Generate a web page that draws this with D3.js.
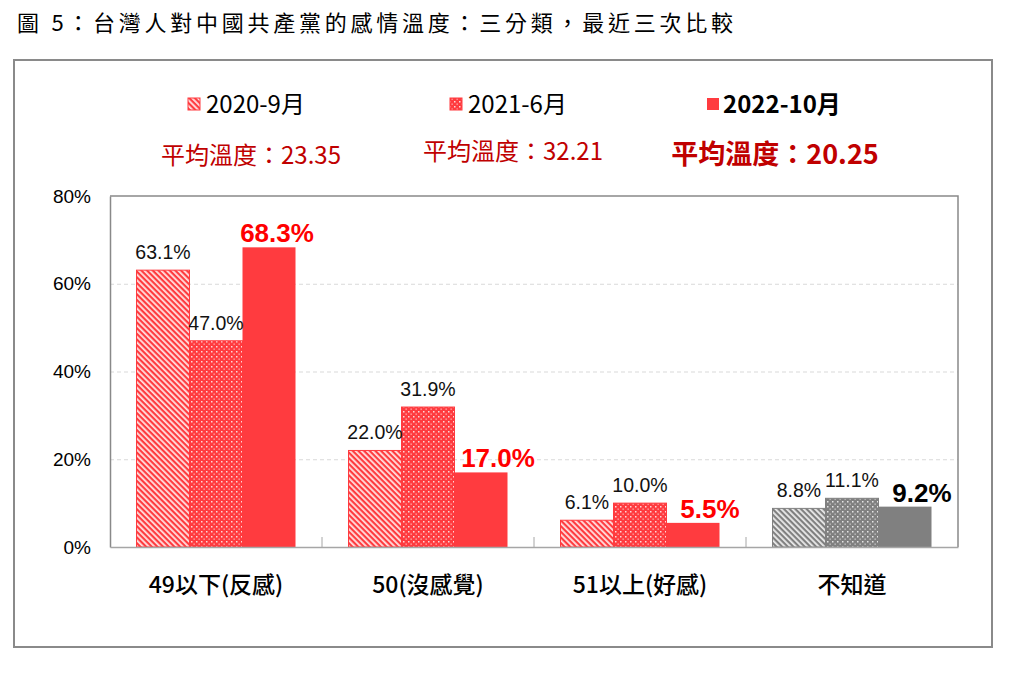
<!DOCTYPE html>
<html>
<head>
<meta charset="utf-8">
<script src="https://cdn.jsdelivr.net/npm/d3@7"></script>
<style>
  body { margin: 0; background: #fff; }
  text { font-family: "Liberation Sans", Arial, sans-serif; }
  .cjk { font-family: "Noto Sans CJK TC", "Noto Sans", sans-serif; }
</style>
</head>
<body>
<div id="chart"></div>
<script>
const title = "圖 5：台灣人對中國共產黨的感情溫度：三分類，最近三次比較";
const categories = ["49以下(反感)", "50(沒感覺)", "51以上(好感)", "不知道"];
const series = ["2020-9月", "2021-6月", "2022-10月"];
const v2020 = [63.1, 22.0, 6.1, 8.8];
const v2021 = [47.0, 31.9, 10.0, 11.1];
const v2022 = [68.3, 17.0, 5.5, 9.2];
const averages = [23.35, 32.21, 20.25];
const yTicks = [0, 20, 40, 60, 80];

const values = [v2020, v2021, v2022];
const width = 1017, height = 684;
const RED = "#ff3b3f", GRAY = "#808080", DARKRED = "#c00000";

const svg = d3.select("#chart").append("svg")
  .attr("width", width)
  .attr("height", height);

// patterns
const defs = svg.append("defs");
function stripes(id, color) {
  const p = defs.append("pattern").attr("id", id)
    .attr("patternUnits", "userSpaceOnUse")
    .attr("width", 4).attr("height", 4)
    .attr("patternTransform", "rotate(-45)");
  p.append("rect").attr("width", 4).attr("height", 4).attr("fill", color);
  p.append("rect").attr("width", 1.8).attr("height", 4).attr("fill", "#fff").attr("opacity", 0.85);
}
function dots(id, color) {
  const p = defs.append("pattern").attr("id", id)
    .attr("patternUnits", "userSpaceOnUse")
    .attr("width", 5).attr("height", 5);
  p.append("rect").attr("width", 5).attr("height", 5).attr("fill", color);
  p.append("rect").attr("x", 1).attr("y", 1).attr("width", 1.5).attr("height", 1.5).attr("fill", "#fff").attr("opacity", 0.8);
  p.append("rect").attr("x", 3.5).attr("y", 3.5).attr("width", 1.3).attr("height", 1.3).attr("fill", "#fff").attr("opacity", 0.6);
}
stripes("stripeRed", RED);
stripes("stripeGray", GRAY);
dots("dotRed", RED);
dots("dotGray", GRAY);

function fillFor(si, ci) {
  const gray = ci === 3;
  if (si === 0) return gray ? "url(#stripeGray)" : "url(#stripeRed)";
  if (si === 1) return gray ? "url(#dotGray)" : "url(#dotRed)";
  return gray ? GRAY : RED;
}

// title
svg.append("text").attr("class", "cjk")
  .attr("x", 17).attr("y", 31)
  .attr("font-size", 22)
  .attr("textLength", 716).attr("lengthAdjust", "spacing")
  .attr("fill", "#000")
  .text(title);

// outer frame
svg.append("rect")
  .attr("x", 14).attr("y", 60).attr("width", 978).attr("height", 587)
  .attr("fill", "none").attr("stroke", "#8a8a8a").attr("stroke-width", 2);

// scales
const x = d3.scaleBand().domain(categories).range([110, 958]);
const xSub = d3.scaleBand().domain(series).range([0, x.bandwidth()]).paddingOuter(0.5);
const y = d3.scaleLinear().domain([0, 80]).range([547, 196]);

// gridlines
svg.append("g")
  .attr("transform", "translate(110,0)")
  .call(d3.axisLeft(y).tickValues(yTicks.filter(d => d > 0 && d < 80)).tickSize(-848).tickFormat(""))
  .call(g => g.select(".domain").remove())
  .call(g => g.selectAll("line").attr("stroke", "#d9d9d9").attr("stroke-dasharray", "4,3"));

// plot border top/right
svg.append("path")
  .attr("d", `M110,${y(80)}H958V${y(0)}`)
  .attr("fill", "none").attr("stroke", "#898989").attr("stroke-width", 1.5);

// y axis
svg.append("g")
  .attr("transform", "translate(110,0)")
  .call(d3.axisLeft(y).tickValues(yTicks).tickFormat(d => d + "%").tickSize(0).tickPadding(19))
  .call(g => g.select(".domain").attr("stroke", "#898989").attr("stroke-width", 1.5))
  .call(g => g.selectAll("text").attr("font-size", 19).attr("fill", "#000")
    .attr("font-family", "Liberation Sans, Arial, sans-serif"));

// bars
const groups = svg.append("g").selectAll("g")
  .data(categories)
  .join("g")
  .attr("transform", d => `translate(${x(d)},0)`);

groups.selectAll("rect")
  .data((c, ci) => series.map((s, si) => ({ s, si, ci, v: values[si][ci] })))
  .join("rect")
  .attr("x", d => xSub(d.s))
  .attr("y", d => y(d.v))
  .attr("width", xSub.bandwidth())
  .attr("height", d => y(0) - y(d.v))
  .attr("fill", d => fillFor(d.si, d.ci))
  .attr("stroke", d => d.si === 2 ? "none" : (d.ci === 3 ? GRAY : RED))
  .attr("stroke-width", 1);

groups.selectAll("text")
  .data((c, ci) => series.map((s, si) => ({ s, si, ci, v: values[si][ci] })))
  .join("text")
  .attr("x", d => xSub(d.s) + xSub.bandwidth() / 2 + (d.si === 2 ? (d.ci === 0 ? 8 : 17) : 0))
  .attr("y", d => y(d.v) - (d.si === 2 ? 5 : 11))
  .attr("text-anchor", "middle")
  .attr("font-size", d => d.si === 2 ? 26 : 19.5)
  .attr("font-weight", d => d.si === 2 ? "bold" : "normal")
  .attr("fill", d => d.si === 2 ? (d.ci === 3 ? "#000" : "#ff0000") : "#111")
  .text(d => d.v.toFixed(1) + "%");

// x axis
svg.append("g")
  .attr("transform", `translate(0,${y(0)})`)
  .call(d3.axisBottom(x).tickSize(0).tickPadding(30))
  .call(g => g.select(".domain").attr("stroke", "#a6a6a6").attr("stroke-width", 1.5))
  .call(g => g.selectAll("text").attr("class", "cjk").attr("font-size", 23).attr("font-weight", 500)
    .attr("fill", "#000").attr("font-family", "Noto Sans CJK TC, sans-serif"));

// category boundary ticks
svg.append("g").selectAll("line")
  .data(categories.slice(1))
  .join("line")
  .attr("x1", d => x(d)).attr("x2", d => x(d))
  .attr("y1", y(0) - 10).attr("y2", y(0))
  .attr("stroke", "#a6a6a6");

// legend
const lx = d3.scaleBand().domain(series).range([120, 906]);
const legend = svg.append("g").selectAll("g")
  .data(series)
  .join("g")
  .attr("transform", d => `translate(${lx(d) + lx.bandwidth() / 2},0)`);

legend.append("rect")
  .attr("x", (d, i) => i === 2 ? -68 : -63).attr("y", 98)
  .attr("width", 12).attr("height", 12)
  .attr("fill", (d, i) => fillFor(i, 0))
  .attr("stroke", (d, i) => i === 2 ? "none" : RED);

legend.append("text").attr("class", "cjk")
  .attr("x", (d, i) => i === 2 ? -52 : -45).attr("y", 113)
  .attr("font-size", 24)
  .attr("font-weight", (d, i) => i === 2 ? "bold" : "normal")
  .attr("fill", "#000")
  .text(d => d);

legend.append("text").attr("class", "cjk")
  .attr("x", 0).attr("y", (d, i) => i === 1 ? 160 : 164)
  .attr("text-anchor", "middle")
  .attr("font-size", (d, i) => i === 2 ? 27 : 24)
  .attr("font-weight", (d, i) => i === 2 ? "bold" : "normal")
  .attr("fill", DARKRED)
  .text((d, i) => "平均溫度：" + averages[i].toFixed(2));
</script>
</body>
</html>
